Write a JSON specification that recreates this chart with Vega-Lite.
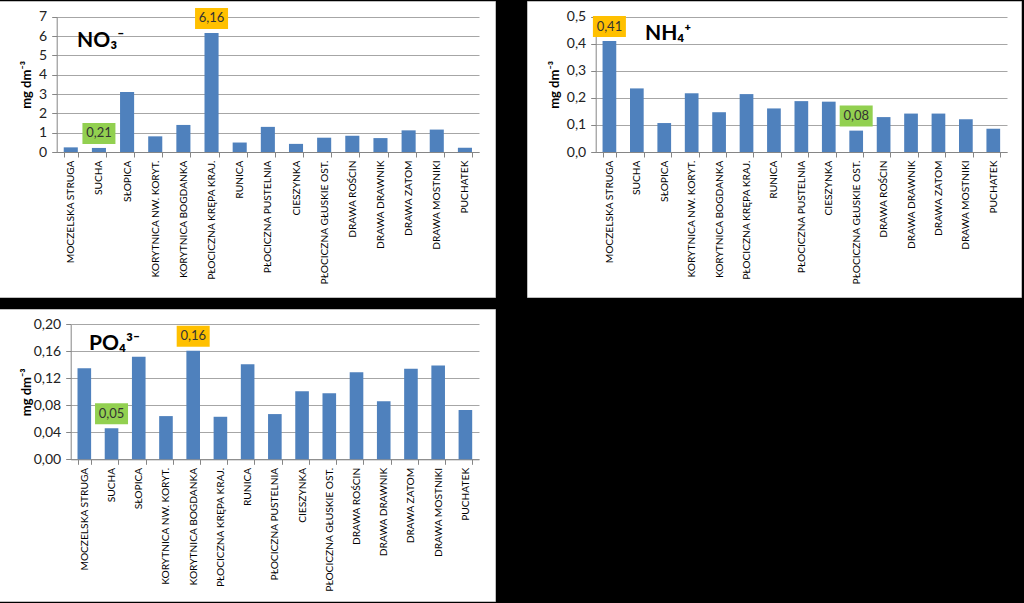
{
  "$schema": "https://vega.github.io/schema/vega-lite/v6.json",
  "background": "black",
  "padding": {"left": -7, "top": 0, "right": 2, "bottom": 3},
  "bounds": "flush",
  "columns": 2,
  "spacing": {"row": 12, "column": 32},
  "datasets": {
    "no3": [
      {"site": "MOCZELSKA STRUGA", "value": 0.24},
      {"site": "SUCHA", "value": 0.21},
      {"site": "SŁOPICA", "value": 3.1},
      {"site": "KORYTNICA NW. KORYT.", "value": 0.81},
      {"site": "KORYTNICA BOGDANKA", "value": 1.4},
      {"site": "PŁOCICZNA KRĘPA KRAJ.", "value": 6.16},
      {"site": "RUNICA", "value": 0.49},
      {"site": "PŁOCICZNA PUSTELNIA", "value": 1.3},
      {"site": "CIESZYNKA", "value": 0.42},
      {"site": "PŁOCICZNA GŁUSKIE OST.", "value": 0.74},
      {"site": "DRAWA ROŚCIN", "value": 0.84},
      {"site": "DRAWA DRAWNIK", "value": 0.72},
      {"site": "DRAWA ZATOM", "value": 1.12},
      {"site": "DRAWA MOSTNIKI", "value": 1.16},
      {"site": "PUCHATEK", "value": 0.22}
    ],
    "nh4": [
      {"site": "MOCZELSKA STRUGA", "value": 0.41},
      {"site": "SUCHA", "value": 0.235},
      {"site": "SŁOPICA", "value": 0.107},
      {"site": "KORYTNICA NW. KORYT.", "value": 0.217},
      {"site": "KORYTNICA BOGDANKA", "value": 0.147},
      {"site": "PŁOCICZNA KRĘPA KRAJ.", "value": 0.214},
      {"site": "RUNICA", "value": 0.161},
      {"site": "PŁOCICZNA PUSTELNIA", "value": 0.188},
      {"site": "CIESZYNKA", "value": 0.186},
      {"site": "PŁOCICZNA GŁUSKIE OST.", "value": 0.079},
      {"site": "DRAWA ROŚCIN", "value": 0.129},
      {"site": "DRAWA DRAWNIK", "value": 0.142},
      {"site": "DRAWA ZATOM", "value": 0.142},
      {"site": "DRAWA MOSTNIKI", "value": 0.121},
      {"site": "PUCHATEK", "value": 0.086}
    ],
    "po4": [
      {"site": "MOCZELSKA STRUGA", "value": 0.135},
      {"site": "SUCHA", "value": 0.046},
      {"site": "SŁOPICA", "value": 0.152},
      {"site": "KORYTNICA NW. KORYT.", "value": 0.064},
      {"site": "KORYTNICA BOGDANKA", "value": 0.161},
      {"site": "PŁOCICZNA KRĘPA KRAJ.", "value": 0.063},
      {"site": "RUNICA", "value": 0.141},
      {"site": "PŁOCICZNA PUSTELNIA", "value": 0.067},
      {"site": "CIESZYNKA", "value": 0.101},
      {"site": "PŁOCICZNA GŁUSKIE OST.", "value": 0.098},
      {"site": "DRAWA ROŚCIN", "value": 0.129},
      {"site": "DRAWA DRAWNIK", "value": 0.086},
      {"site": "DRAWA ZATOM", "value": 0.134},
      {"site": "DRAWA MOSTNIKI", "value": 0.139},
      {"site": "PUCHATEK", "value": 0.073}
    ]
  },
  "config": {
    "font": "Lato",
    "locale": {"number": {"decimal": ",", "thousands": " ", "grouping": [3], "currency": ["", " zł"]}},
    "view": {"fill": "white", "stroke": "#bfbfbf"},
    "axis": {
      "domainColor": "#868686",
      "tickColor": "#868686",
      "gridColor": "#a6a6a6",
      "labelFont": "Lato",
      "titleFont": "Lato"
    },
    "axisX": {
      "title": null,
      "labelAngle": -90,
      "labelFontSize": 10.2,
      "labelColor": "black",
      "labelPadding": 3,
      "tickBand": "extent",
      "tickSize": 5,
      "grid": false,
      "labelOverlap": false,
      "labelLimit": 0
    },
    "axisY": {
      "labelFontSize": 14,
      "labelColor": "#222222",
      "tickSize": 5,
      "labelPadding": 5,
      "grid": true,
      "titleFontSize": 13,
      "titleFontWeight": "bold",
      "titleColor": "black",
      "titleBaseline": "alphabetic",
      "titleAngle": 270
    },
    "title": {"anchor": "start", "frame": "group", "offset": 0, "baseline": "alphabetic", "fontSize": 21, "fontWeight": "bold", "color": "black", "font": "Lato"}
  },
  "concat": [
    {
      "width": 496,
      "height": 296,
      "data": {"name": "no3"},
      "title": {"text": "NO₃⁻", "dx": 78, "dy": 54},
      "encoding": {
        "x": {"field": "site", "type": "nominal", "sort": null,
          "scale": {"range": [57.7, 480], "paddingInner": 0.5, "paddingOuter": 0.25},
          "axis": {"offset": -145}},
        "y": {"field": "value", "type": "quantitative",
          "scale": {"domain": [0, 7], "range": [151, 15.7], "nice": false},
          "axis": {"offset": -57.7, "values": [0, 1, 2, 3, 4, 5, 6, 7], "format": "d", "title": "mg dm⁻³", "titleX": -26}}
      },
      "layer": [
        {"mark": {"type": "bar", "color": "#4F81BD"}},
        {
          "transform": [
            {"joinaggregate": [{"op": "max", "field": "value", "as": "mx"}, {"op": "min", "field": "value", "as": "mn"}]},
            {"filter": "datum.value == datum.mx || datum.value == datum.mn"}
          ],
          "layer": [
            {"mark": {"type": "bar", "width": 33, "yOffset": -25, "y2Offset": -4},
             "encoding": {"y2": {"field": "value"},
               "color": {"condition": {"test": "datum.value == datum.mx", "value": "#FFC000"}, "value": "#92D050"}}},
            {"mark": {"type": "text", "dy": -14.5, "fontSize": 13, "color": "#333333"},
             "encoding": {"text": {"field": "value", "type": "quantitative", "format": ".2f"}}}
          ]
        }
      ]
    },
    {
      "width": 494,
      "height": 296,
      "data": {"name": "nh4"},
      "title": {"text": "NH₄⁺", "dx": 118, "dy": 47},
      "encoding": {
        "x": {"field": "site", "type": "nominal", "sort": null,
          "scale": {"range": [68.7, 480], "paddingInner": 0.5, "paddingOuter": 0.25},
          "axis": {"offset": -145}},
        "y": {"field": "value", "type": "quantitative",
          "scale": {"domain": [0, 0.5], "range": [151, 15.7], "nice": false},
          "axis": {"offset": -68.7, "values": [0, 0.1, 0.2, 0.3, 0.4, 0.5], "format": ".1f", "title": "mg dm⁻³", "titleX": -37.7}}
      },
      "layer": [
        {"mark": {"type": "bar", "color": "#4F81BD"}},
        {
          "transform": [
            {"joinaggregate": [{"op": "max", "field": "value", "as": "mx"}, {"op": "min", "field": "value", "as": "mn"}]},
            {"filter": "datum.value == datum.mx || datum.value == datum.mn"}
          ],
          "layer": [
            {"mark": {"type": "bar", "width": 33, "yOffset": -25, "y2Offset": -4},
             "encoding": {"y2": {"field": "value"},
               "color": {"condition": {"test": "datum.value == datum.mx", "value": "#FFC000"}, "value": "#92D050"}}},
            {"mark": {"type": "text", "dy": -14.5, "fontSize": 13, "color": "#333333"},
             "encoding": {"text": {"field": "value", "type": "quantitative", "format": ".2f"}}}
          ]
        }
      ]
    },
    {
      "width": 496,
      "height": 292,
      "data": {"name": "po4"},
      "title": {"text": "PO₄³⁻", "dx": 90, "dy": 49},
      "encoding": {
        "x": {"field": "site", "type": "nominal", "sort": null,
          "scale": {"range": [71.7, 480], "paddingInner": 0.5, "paddingOuter": 0.25},
          "axis": {"offset": -141.7}},
        "y": {"field": "value", "type": "quantitative",
          "scale": {"domain": [0, 0.2], "range": [150.3, 15.3], "nice": false},
          "axis": {"offset": -71.7, "values": [0, 0.04, 0.08, 0.12, 0.16, 0.2], "format": ".2f", "title": "mg dm⁻³", "titleX": -40}}
      },
      "layer": [
        {"mark": {"type": "bar", "color": "#4F81BD"}},
        {
          "transform": [
            {"joinaggregate": [{"op": "max", "field": "value", "as": "mx"}, {"op": "min", "field": "value", "as": "mn"}]},
            {"filter": "datum.value == datum.mx || datum.value == datum.mn"}
          ],
          "layer": [
            {"mark": {"type": "bar", "width": 33, "yOffset": -25, "y2Offset": -4},
             "encoding": {"y2": {"field": "value"},
               "color": {"condition": {"test": "datum.value == datum.mx", "value": "#FFC000"}, "value": "#92D050"}}},
            {"mark": {"type": "text", "dy": -14.5, "fontSize": 13, "color": "#333333"},
             "encoding": {"text": {"field": "value", "type": "quantitative", "format": ".2f"}}}
          ]
        }
      ]
    }
  ]
}
